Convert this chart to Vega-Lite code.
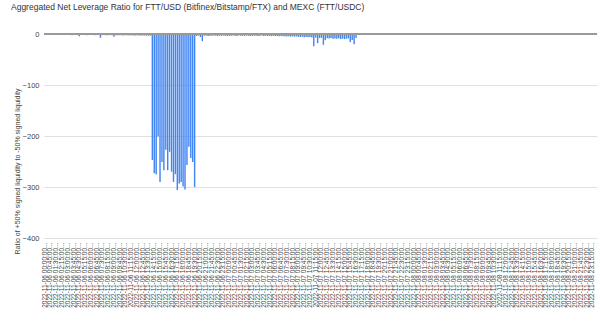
{
  "$schema": "https://vega.github.io/schema/vega-lite/v6.json",
  "autosize": "none",
  "width": 553,
  "height": 204,
  "padding": {"left": 44, "top": 34, "right": 3, "bottom": 83},
  "background": "white",
  "config": {"view": {"stroke": null}, "font": "Liberation Sans"},
  "title": {
    "text": "Aggregated Net Leverage Ratio for FTT/USD (Bitfinex/Bitstamp/FTX) and MEXC (FTT/USDC)",
    "anchor": "start",
    "frame": "group",
    "dx": -33,
    "dy": -12,
    "offset": 0,
    "baseline": "alphabetic",
    "fontSize": 8.5,
    "fontWeight": "normal",
    "color": "#333333",
    "font": "Liberation Sans"
  },
  "data": {
    "values": [
      {"t": "2022-11-06 00:00:00", "v": -1.5},
      {"t": "2022-11-06 00:15:00", "v": -1.8},
      {"t": "2022-11-06 00:30:00", "v": -1.6},
      {"t": "2022-11-06 00:45:00", "v": -2.0},
      {"t": "2022-11-06 01:00:00", "v": -1.7},
      {"t": "2022-11-06 01:15:00", "v": -1.9},
      {"t": "2022-11-06 01:30:00", "v": -2.1},
      {"t": "2022-11-06 01:45:00", "v": -1.8},
      {"t": "2022-11-06 02:00:00", "v": -1.6},
      {"t": "2022-11-06 02:15:00", "v": -2.0},
      {"t": "2022-11-06 02:30:00", "v": -2.2},
      {"t": "2022-11-06 02:45:00", "v": -1.9},
      {"t": "2022-11-06 03:00:00", "v": -1.7},
      {"t": "2022-11-06 03:15:00", "v": -2.0},
      {"t": "2022-11-06 03:30:00", "v": -2.3},
      {"t": "2022-11-06 03:45:00", "v": -2.1},
      {"t": "2022-11-06 04:00:00", "v": -1.9},
      {"t": "2022-11-06 04:15:00", "v": -2.2},
      {"t": "2022-11-06 04:30:00", "v": -4.5},
      {"t": "2022-11-06 04:45:00", "v": -2.0},
      {"t": "2022-11-06 05:00:00", "v": -1.8},
      {"t": "2022-11-06 05:15:00", "v": -2.1},
      {"t": "2022-11-06 05:30:00", "v": -2.3},
      {"t": "2022-11-06 05:45:00", "v": -2.0},
      {"t": "2022-11-06 06:00:00", "v": -1.9},
      {"t": "2022-11-06 06:15:00", "v": -2.2},
      {"t": "2022-11-06 06:30:00", "v": -2.4},
      {"t": "2022-11-06 06:45:00", "v": -2.1},
      {"t": "2022-11-06 07:00:00", "v": -2.0},
      {"t": "2022-11-06 07:15:00", "v": -7.5},
      {"t": "2022-11-06 07:30:00", "v": -2.3},
      {"t": "2022-11-06 07:45:00", "v": -2.1},
      {"t": "2022-11-06 08:00:00", "v": -2.4},
      {"t": "2022-11-06 08:15:00", "v": -2.6},
      {"t": "2022-11-06 08:30:00", "v": -2.2},
      {"t": "2022-11-06 08:45:00", "v": -2.5},
      {"t": "2022-11-06 09:00:00", "v": -5.5},
      {"t": "2022-11-06 09:15:00", "v": -2.4},
      {"t": "2022-11-06 09:30:00", "v": -2.6},
      {"t": "2022-11-06 09:45:00", "v": -2.3},
      {"t": "2022-11-06 10:00:00", "v": -2.5},
      {"t": "2022-11-06 10:15:00", "v": -2.8},
      {"t": "2022-11-06 10:30:00", "v": -2.4},
      {"t": "2022-11-06 10:45:00", "v": -2.6},
      {"t": "2022-11-06 11:00:00", "v": -2.9},
      {"t": "2022-11-06 11:15:00", "v": -2.5},
      {"t": "2022-11-06 11:30:00", "v": -2.7},
      {"t": "2022-11-06 11:45:00", "v": -3.0},
      {"t": "2022-11-06 12:00:00", "v": -2.6},
      {"t": "2022-11-06 12:15:00", "v": -2.8},
      {"t": "2022-11-06 12:30:00", "v": -3.1},
      {"t": "2022-11-06 12:45:00", "v": -2.7},
      {"t": "2022-11-06 13:00:00", "v": -2.9},
      {"t": "2022-11-06 13:15:00", "v": -3.2},
      {"t": "2022-11-06 13:30:00", "v": -3.0},
      {"t": "2022-11-06 13:45:00", "v": -3.4},
      {"t": "2022-11-06 14:00:00", "v": -247},
      {"t": "2022-11-06 14:15:00", "v": -273},
      {"t": "2022-11-06 14:30:00", "v": -275},
      {"t": "2022-11-06 14:45:00", "v": -201},
      {"t": "2022-11-06 15:00:00", "v": -290},
      {"t": "2022-11-06 15:15:00", "v": -251},
      {"t": "2022-11-06 15:30:00", "v": -267},
      {"t": "2022-11-06 15:45:00", "v": -227},
      {"t": "2022-11-06 16:00:00", "v": -267},
      {"t": "2022-11-06 16:15:00", "v": -231},
      {"t": "2022-11-06 16:30:00", "v": -270},
      {"t": "2022-11-06 16:45:00", "v": -290},
      {"t": "2022-11-06 17:00:00", "v": -275},
      {"t": "2022-11-06 17:15:00", "v": -306},
      {"t": "2022-11-06 17:30:00", "v": -293},
      {"t": "2022-11-06 17:45:00", "v": -290},
      {"t": "2022-11-06 18:00:00", "v": -299},
      {"t": "2022-11-06 18:15:00", "v": -305},
      {"t": "2022-11-06 18:30:00", "v": -257},
      {"t": "2022-11-06 18:45:00", "v": -221},
      {"t": "2022-11-06 19:00:00", "v": -243},
      {"t": "2022-11-06 19:15:00", "v": -251},
      {"t": "2022-11-06 19:30:00", "v": -300},
      {"t": "2022-11-06 19:45:00", "v": -4.0},
      {"t": "2022-11-06 20:00:00", "v": -3.0},
      {"t": "2022-11-06 20:15:00", "v": -6.0},
      {"t": "2022-11-06 20:30:00", "v": -14},
      {"t": "2022-11-06 20:45:00", "v": -3.5},
      {"t": "2022-11-06 21:00:00", "v": -3.0},
      {"t": "2022-11-06 21:15:00", "v": -4.0},
      {"t": "2022-11-06 21:30:00", "v": -3.2},
      {"t": "2022-11-06 21:45:00", "v": -3.6},
      {"t": "2022-11-06 22:00:00", "v": -2.9},
      {"t": "2022-11-06 22:15:00", "v": -3.3},
      {"t": "2022-11-06 22:30:00", "v": -3.8},
      {"t": "2022-11-06 22:45:00", "v": -3.1},
      {"t": "2022-11-06 23:00:00", "v": -3.5},
      {"t": "2022-11-06 23:15:00", "v": -3.0},
      {"t": "2022-11-06 23:30:00", "v": -3.4},
      {"t": "2022-11-06 23:45:00", "v": -3.7},
      {"t": "2022-11-07 00:00:00", "v": -3.2},
      {"t": "2022-11-07 00:15:00", "v": -3.6},
      {"t": "2022-11-07 00:30:00", "v": -3.0},
      {"t": "2022-11-07 00:45:00", "v": -3.4},
      {"t": "2022-11-07 01:00:00", "v": -3.8},
      {"t": "2022-11-07 01:15:00", "v": -3.1},
      {"t": "2022-11-07 01:30:00", "v": -3.5},
      {"t": "2022-11-07 01:45:00", "v": -3.3},
      {"t": "2022-11-07 02:00:00", "v": -3.7},
      {"t": "2022-11-07 02:15:00", "v": -3.0},
      {"t": "2022-11-07 02:30:00", "v": -3.4},
      {"t": "2022-11-07 02:45:00", "v": -3.9},
      {"t": "2022-11-07 03:00:00", "v": -3.2},
      {"t": "2022-11-07 03:15:00", "v": -3.6},
      {"t": "2022-11-07 03:30:00", "v": -3.3},
      {"t": "2022-11-07 03:45:00", "v": -3.8},
      {"t": "2022-11-07 04:00:00", "v": -3.5},
      {"t": "2022-11-07 04:15:00", "v": -3.1},
      {"t": "2022-11-07 04:30:00", "v": -3.7},
      {"t": "2022-11-07 04:45:00", "v": -3.4},
      {"t": "2022-11-07 05:00:00", "v": -3.9},
      {"t": "2022-11-07 05:15:00", "v": -3.6},
      {"t": "2022-11-07 05:30:00", "v": -4.1},
      {"t": "2022-11-07 05:45:00", "v": -3.7},
      {"t": "2022-11-07 06:00:00", "v": -4.0},
      {"t": "2022-11-07 06:15:00", "v": -3.8},
      {"t": "2022-11-07 06:30:00", "v": -4.3},
      {"t": "2022-11-07 06:45:00", "v": -4.0},
      {"t": "2022-11-07 07:00:00", "v": -4.5},
      {"t": "2022-11-07 07:15:00", "v": -4.2},
      {"t": "2022-11-07 07:30:00", "v": -4.8},
      {"t": "2022-11-07 07:45:00", "v": -4.4},
      {"t": "2022-11-07 08:00:00", "v": -5.0},
      {"t": "2022-11-07 08:15:00", "v": -4.6},
      {"t": "2022-11-07 08:30:00", "v": -5.2},
      {"t": "2022-11-07 08:45:00", "v": -4.8},
      {"t": "2022-11-07 09:00:00", "v": -5.5},
      {"t": "2022-11-07 09:15:00", "v": -6.0},
      {"t": "2022-11-07 09:30:00", "v": -5.4},
      {"t": "2022-11-07 09:45:00", "v": -6.2},
      {"t": "2022-11-07 10:00:00", "v": -5.8},
      {"t": "2022-11-07 10:15:00", "v": -6.5},
      {"t": "2022-11-07 10:30:00", "v": -6.0},
      {"t": "2022-11-07 10:45:00", "v": -6.8},
      {"t": "2022-11-07 11:00:00", "v": -24},
      {"t": "2022-11-07 11:15:00", "v": -7.0},
      {"t": "2022-11-07 11:30:00", "v": -18},
      {"t": "2022-11-07 11:45:00", "v": -8.0},
      {"t": "2022-11-07 12:00:00", "v": -7.5},
      {"t": "2022-11-07 12:15:00", "v": -21},
      {"t": "2022-11-07 12:30:00", "v": -12},
      {"t": "2022-11-07 12:45:00", "v": -8.5},
      {"t": "2022-11-07 13:00:00", "v": -9.0},
      {"t": "2022-11-07 13:15:00", "v": -8.0},
      {"t": "2022-11-07 13:30:00", "v": -9.5},
      {"t": "2022-11-07 13:45:00", "v": -8.8},
      {"t": "2022-11-07 14:00:00", "v": -9.2},
      {"t": "2022-11-07 14:15:00", "v": -8.4},
      {"t": "2022-11-07 14:30:00", "v": -9.8},
      {"t": "2022-11-07 14:45:00", "v": -8.9},
      {"t": "2022-11-07 15:00:00", "v": -10},
      {"t": "2022-11-07 15:15:00", "v": -9.1},
      {"t": "2022-11-07 15:30:00", "v": -8.6},
      {"t": "2022-11-07 15:45:00", "v": -16},
      {"t": "2022-11-07 16:00:00", "v": -12},
      {"t": "2022-11-07 16:15:00", "v": -20},
      {"t": "2022-11-07 16:30:00", "v": -8.0},
      {"t": "2022-11-07 16:45:00", "v": 0}, {"t": "2022-11-07 17:00:00", "v": 0}, {"t": "2022-11-07 17:15:00", "v": 0}, {"t": "2022-11-07 17:30:00", "v": 0},
      {"t": "2022-11-07 17:45:00", "v": 0}, {"t": "2022-11-07 18:00:00", "v": 0}, {"t": "2022-11-07 18:15:00", "v": 0}, {"t": "2022-11-07 18:30:00", "v": 0},
      {"t": "2022-11-07 18:45:00", "v": 0}, {"t": "2022-11-07 19:00:00", "v": 0}, {"t": "2022-11-07 19:15:00", "v": 0}, {"t": "2022-11-07 19:30:00", "v": 0},
      {"t": "2022-11-07 19:45:00", "v": 0}, {"t": "2022-11-07 20:00:00", "v": 0}, {"t": "2022-11-07 20:15:00", "v": 0}, {"t": "2022-11-07 20:30:00", "v": 0},
      {"t": "2022-11-07 20:45:00", "v": 0}, {"t": "2022-11-07 21:00:00", "v": 0}, {"t": "2022-11-07 21:15:00", "v": 0}, {"t": "2022-11-07 21:30:00", "v": 0},
      {"t": "2022-11-07 21:45:00", "v": 0}, {"t": "2022-11-07 22:00:00", "v": 0}, {"t": "2022-11-07 22:15:00", "v": 0}, {"t": "2022-11-07 22:30:00", "v": 0},
      {"t": "2022-11-07 22:45:00", "v": 0}, {"t": "2022-11-07 23:00:00", "v": 0}, {"t": "2022-11-07 23:15:00", "v": 0}, {"t": "2022-11-07 23:30:00", "v": 0},
      {"t": "2022-11-07 23:45:00", "v": 0},
      {"t": "2022-11-08 00:00:00", "v": 0}, {"t": "2022-11-08 00:15:00", "v": 0}, {"t": "2022-11-08 00:30:00", "v": 0}, {"t": "2022-11-08 00:45:00", "v": 0},
      {"t": "2022-11-08 01:00:00", "v": 0}, {"t": "2022-11-08 01:15:00", "v": 0}, {"t": "2022-11-08 01:30:00", "v": 0}, {"t": "2022-11-08 01:45:00", "v": 0},
      {"t": "2022-11-08 02:00:00", "v": 0}, {"t": "2022-11-08 02:15:00", "v": 0}, {"t": "2022-11-08 02:30:00", "v": 0}, {"t": "2022-11-08 02:45:00", "v": 0},
      {"t": "2022-11-08 03:00:00", "v": 0}, {"t": "2022-11-08 03:15:00", "v": 0}, {"t": "2022-11-08 03:30:00", "v": 0}, {"t": "2022-11-08 03:45:00", "v": 0},
      {"t": "2022-11-08 04:00:00", "v": 0}, {"t": "2022-11-08 04:15:00", "v": 0}, {"t": "2022-11-08 04:30:00", "v": 0}, {"t": "2022-11-08 04:45:00", "v": 0},
      {"t": "2022-11-08 05:00:00", "v": 0}, {"t": "2022-11-08 05:15:00", "v": 0}, {"t": "2022-11-08 05:30:00", "v": 0}, {"t": "2022-11-08 05:45:00", "v": 0},
      {"t": "2022-11-08 06:00:00", "v": 0}, {"t": "2022-11-08 06:15:00", "v": 0}, {"t": "2022-11-08 06:30:00", "v": 0}, {"t": "2022-11-08 06:45:00", "v": 0},
      {"t": "2022-11-08 07:00:00", "v": 0}, {"t": "2022-11-08 07:15:00", "v": 0}, {"t": "2022-11-08 07:30:00", "v": 0}, {"t": "2022-11-08 07:45:00", "v": 0},
      {"t": "2022-11-08 08:00:00", "v": 0}, {"t": "2022-11-08 08:15:00", "v": 0}, {"t": "2022-11-08 08:30:00", "v": 0}, {"t": "2022-11-08 08:45:00", "v": 0},
      {"t": "2022-11-08 09:00:00", "v": 0}, {"t": "2022-11-08 09:15:00", "v": 0}, {"t": "2022-11-08 09:30:00", "v": 0}, {"t": "2022-11-08 09:45:00", "v": 0},
      {"t": "2022-11-08 10:00:00", "v": 0}, {"t": "2022-11-08 10:15:00", "v": 0}, {"t": "2022-11-08 10:30:00", "v": 0}, {"t": "2022-11-08 10:45:00", "v": 0},
      {"t": "2022-11-08 11:00:00", "v": 0}, {"t": "2022-11-08 11:15:00", "v": 0}, {"t": "2022-11-08 11:30:00", "v": 0}, {"t": "2022-11-08 11:45:00", "v": 0},
      {"t": "2022-11-08 12:00:00", "v": 0}, {"t": "2022-11-08 12:15:00", "v": 0}, {"t": "2022-11-08 12:30:00", "v": 0}, {"t": "2022-11-08 12:45:00", "v": 0},
      {"t": "2022-11-08 13:00:00", "v": 0}, {"t": "2022-11-08 13:15:00", "v": 0}, {"t": "2022-11-08 13:30:00", "v": 0}, {"t": "2022-11-08 13:45:00", "v": 0},
      {"t": "2022-11-08 14:00:00", "v": 0}, {"t": "2022-11-08 14:15:00", "v": 0}, {"t": "2022-11-08 14:30:00", "v": 0}, {"t": "2022-11-08 14:45:00", "v": 0},
      {"t": "2022-11-08 15:00:00", "v": 0}, {"t": "2022-11-08 15:15:00", "v": 0}, {"t": "2022-11-08 15:30:00", "v": 0}, {"t": "2022-11-08 15:45:00", "v": 0},
      {"t": "2022-11-08 16:00:00", "v": 0}, {"t": "2022-11-08 16:15:00", "v": 0}, {"t": "2022-11-08 16:30:00", "v": 0}, {"t": "2022-11-08 16:45:00", "v": 0},
      {"t": "2022-11-08 17:00:00", "v": 0}, {"t": "2022-11-08 17:15:00", "v": 0}, {"t": "2022-11-08 17:30:00", "v": 0}, {"t": "2022-11-08 17:45:00", "v": 0},
      {"t": "2022-11-08 18:00:00", "v": 0}, {"t": "2022-11-08 18:15:00", "v": 0}, {"t": "2022-11-08 18:30:00", "v": 0}, {"t": "2022-11-08 18:45:00", "v": 0},
      {"t": "2022-11-08 19:00:00", "v": 0}, {"t": "2022-11-08 19:15:00", "v": 0}, {"t": "2022-11-08 19:30:00", "v": 0}, {"t": "2022-11-08 19:45:00", "v": 0},
      {"t": "2022-11-08 20:00:00", "v": 0}, {"t": "2022-11-08 20:15:00", "v": 0}, {"t": "2022-11-08 20:30:00", "v": 0}, {"t": "2022-11-08 20:45:00", "v": 0},
      {"t": "2022-11-08 21:00:00", "v": 0}, {"t": "2022-11-08 21:15:00", "v": 0}, {"t": "2022-11-08 21:30:00", "v": 0}, {"t": "2022-11-08 21:45:00", "v": 0},
      {"t": "2022-11-08 22:00:00", "v": 0}, {"t": "2022-11-08 22:15:00", "v": 0}, {"t": "2022-11-08 22:30:00", "v": 0}, {"t": "2022-11-08 22:45:00", "v": 0},
      {"t": "2022-11-08 23:00:00", "v": 0}, {"t": "2022-11-08 23:15:00", "v": 0}, {"t": "2022-11-08 23:30:00", "v": 0}, {"t": "2022-11-08 23:45:00", "v": 0}
    ]
  },
  "layer": [
    {
      "mark": {"type": "bar", "color": "#4285f4"},
      "encoding": {
        "x": {
          "field": "t",
          "type": "ordinal",
          "scale": {"paddingInner": 0.25, "paddingOuter": 0},
          "axis": {
            "title": null,
            "grid": false,
            "domain": false,
            "ticks": false,
            "labelExpr": "((toNumber(substring(datum.label, 8, 10)) - 6) * 1440 + toNumber(substring(datum.label, 11, 13)) * 60 + toNumber(substring(datum.label, 14, 16))) % 45 == 0 ? datum.label + '...' : ''",
            "labelAngle": -90,
            "labelAlign": "right",
            "labelBaseline": "middle",
            "labelPadding": 4,
            "labelFontSize": 6.5,
            "labelColor": "#444444",
            "labelOverlap": false,
            "labelBound": false,
            "labelLimit": 0
          }
        },
        "y": {
          "field": "v",
          "type": "quantitative",
          "scale": {"domain": [-400, 0], "nice": false},
          "axis": {
            "title": "Ratio of +50% signed liquidity to -50% signed liquidity",
            "values": [-400, -300, -200, -100, 0],
            "domain": false,
            "ticks": false,
            "labelPadding": 5,
            "labelFontSize": 7.5,
            "labelColor": "#444444",
            "gridColor": "#e0e0e0",
            "titleFontSize": 7,
            "titleFontWeight": "normal",
            "titleColor": "#444444",
            "titleAngle": -90,
            "titleAlign": "center",
            "titleBaseline": "middle",
            "titleX": -27,
            "titleY": 137
          }
        }
      }
    },
    {
      "mark": {"type": "rule", "color": "#999999", "strokeWidth": 1},
      "encoding": {"y": {"datum": 0}}
    }
  ]
}
